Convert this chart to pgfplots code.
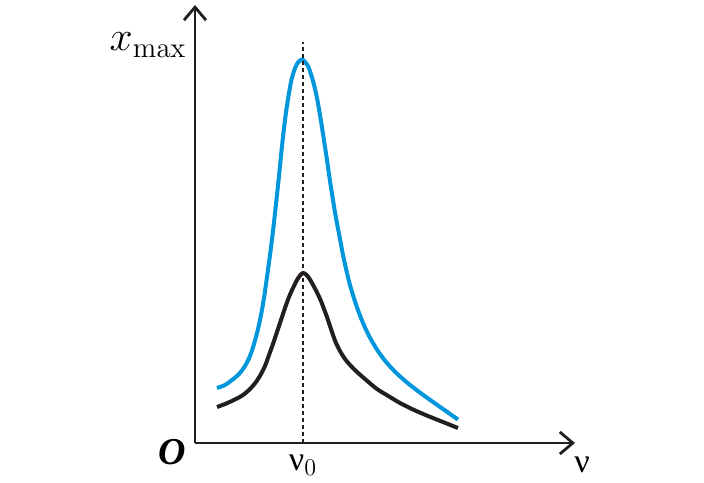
\documentclass[border=0pt]{standalone}
\usepackage[no-math]{fontspec}
\setmainfont{Liberation Serif}
\usepackage{pgfplots}
\pgfplotsset{compat=1.18}
\usetikzlibrary{arrows.meta}

\definecolor{curveblue}{HTML}{0096DB}
\definecolor{curveblack}{HTML}{231F20}

\begin{document}
\begin{tikzpicture}
\begin{axis}[
    x=0.5pt, y=0.5pt,
    xmin=0, xmax=380,
    ymin=0, ymax=438,
    axis lines=left,
    axis line style={line width=1.4pt, curveblack, -{Straight Barb[length=6.5pt, width=11pt, line width=1.4pt]}},
    xtick=\empty, ytick=\empty,
    clip=false,
]
% blue: lighter damping
\addplot[curveblue, line width=2pt, smooth, tension=0.5] coordinates {
    (22,55) (30,58) (37,63) (44,69) (50,77) (55,87) (59,99) (63,114)
    (66,128) (69,145) (72,166) (75,188) (78,212) (81,239) (84,267) (87,297)
    (90,323) (93,344) (96,361) (99,372) (102,379) (105,382.5) (108,383)
    (113,377) (118,362) (122,345) (125,328) (128,309) (132,283) (135,262)
    (138,243) (141,225) (145,204) (148,188) (152,170) (155,158) (160,141.5)
    (165,127.5) (170,115.5) (175,105.3) (182,93.4) (190,82.3) (200,71.3)
    (212,60.5) (225,50.4) (240,39.6) (252,31.2) (263,23.5)
};
% black: heavier damping
\addplot[curveblack, line width=2pt, smooth, tension=0.5] coordinates {
    (22,36) (30,39) (40,43.5) (48,48) (55,54) (61,61) (66,69) (70,77)
    (74,88) (78,99) (82,111) (86,123) (90,135) (94,146) (98,155) (102,163)
    (105,167.5) (108,170) (111,168.5) (114,165) (117,160) (120,154.5)
    (123,148.5) (126,142) (129,134) (132,126) (135,117) (138,108) (141,100)
    (145,92) (150,84) (156,77) (162,71) (170,64) (182,54) (195,46) (205,40)
    (218,33.5) (233,27) (248,21) (263,15)
};
% resonance line
\addplot[curveblack, line width=1.2pt, dash pattern=on 2pt off 1.5pt] coordinates {(108,0) (108,401)};

\node at (axis cs:-47,398) {\fontsize{20}{20}\selectfont $x_{\max}$};
\node at (axis cs:-23,-9) {\fontsize{19}{19}\selectfont\bfseries\itshape O};
\node at (axis cs:108,-22) {\fontsize{17}{17}\selectfont ν$_0$};
\node at (axis cs:387,-22) {\fontsize{17}{17}\selectfont ν};

\path (axis cs:-195,-37) rectangle (axis cs:509,443);
\end{axis}
\end{tikzpicture}
\end{document}
